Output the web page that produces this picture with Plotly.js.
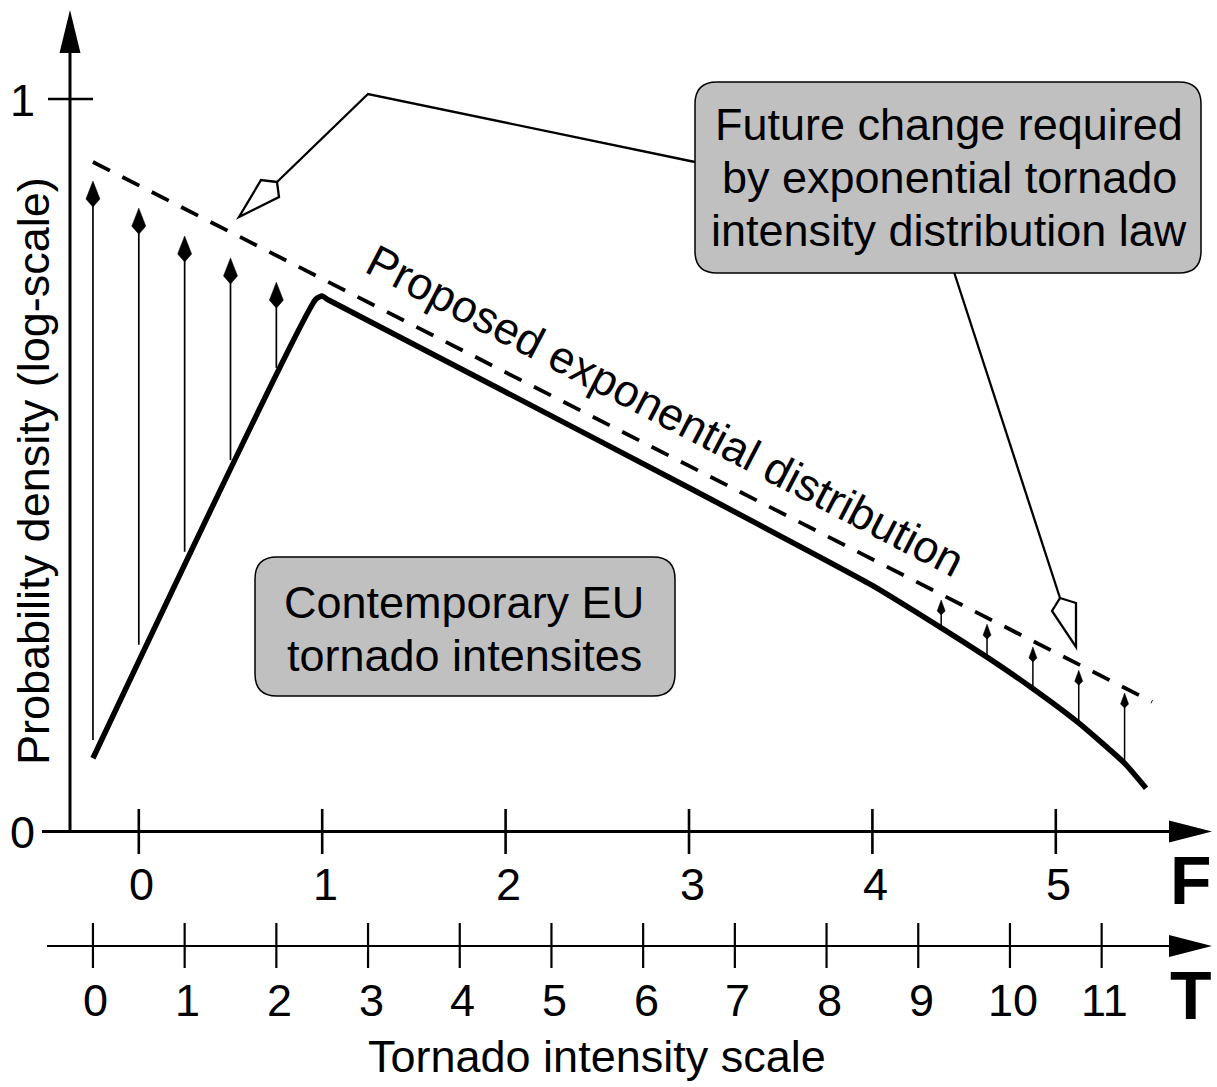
<!DOCTYPE html>
<html><head><meta charset="utf-8">
<script src="https://cdn.plot.ly/plotly-3.0.1.min.js"></script>
<style>html,body{margin:0;padding:0;background:#fff;overflow:hidden}</style>
</head><body>
<div id="chart" style="width:1217px;height:1087px"></div>
<script>
// ---------------- data (F scale units, relative log-density 0..1) ----------------
const contemporaryF = [-0.25, 0.966, 1.0, 1.032, 2.0, 2.995, 3.992, 4.369, 4.625, 4.870, 5.121, 5.372, 5.492];
const contemporaryP = [0.100, 0.727, 0.731, 0.726, 0.600, 0.470, 0.337, 0.279, 0.238, 0.196, 0.149, 0.094, 0.059];
const proposedF = [-0.25, 5.525];
const proposedP = [0.914, 0.177];
const lowArrowF = [-0.25, 0, 0.25, 0.5, 0.75];
const lowArrowFrom = [0.125, 0.255, 0.382, 0.507, 0.633];
const lowArrowTo = [0.888, 0.851, 0.813, 0.783, 0.750];
const highArrowF = [4.375, 4.625, 4.875, 5.125, 5.375];
const highArrowFrom = [0.279, 0.238, 0.196, 0.148, 0.094];
const highArrowTo = [0.316, 0.283, 0.252, 0.220, 0.189];
const fTicks = [0, 1, 2, 3, 4, 5];
const fTickLabels = ['0', '1', '2', '3', '4', '5'];
const tTicks = [0, 1, 2, 3, 4, 5, 6, 7, 8, 9, 10, 11];
const tTickLabels = ['0', '1', '2', '3', '4', '5', '6', '7', '8', '9', '10', '11'];
const yTicks = [0, 1];
const yTickLabels = ['0', '1'];

// ---------------- layout geometry ----------------
const W = 1217, H = 1087;
const PX_X0 = 138.8, PX_PER_F = 183.4, PX_Y0 = 831.5, PX_PER_P = 732.5;
const X = px => (px - PX_X0) / PX_PER_F;
const Y = py => (PX_Y0 - py) / PX_PER_P;
const dX = d => d / PX_PER_F;
const dY = d => d / PX_PER_P;
const FONT = 'Liberation Sans, Arial, Helvetica, sans-serif';

function arrowParts(xs, from, to, L1, L2, w) {
  const sx = [], sy = [], hx = [], hy = [];
  xs.forEach((x, i) => {
    sx.push(x, x, null); sy.push(from[i], to[i] - dY(L1), null);
    hx.push(x, x + dX(w), x, x - dX(w), x, null);
    hy.push(to[i], to[i] - dY(L1), to[i] - dY(L1 + L2), to[i] - dY(L1), to[i], null);
  });
  return {sx, sy, hx, hy};
}
const low = arrowParts(lowArrowF, lowArrowFrom, lowArrowTo, 18, 8, 7);
const high = arrowParts(highArrowF, highArrowFrom, highArrowTo, 11, 4, 4);

const fTickX = [], fTickY = [];
fTicks.forEach(t => { fTickX.push(t, t, null); fTickY.push(Y(809), Y(854), null); });
const tTickX = [], tTickY = [];
tTicks.forEach(t => { tTickX.push(t, t, null); tTickY.push(Y(923), Y(968), null); });
const yTickX = [], yTickY = [];
yTicks.filter(v => v > 0).forEach(v => { yTickX.push(X(48), X(93), null); yTickY.push(v, v, null); });

const traces = [
  {x: contemporaryF, y: contemporaryP, mode: 'lines', line: {color: '#000', width: 5.5, shape: 'spline', smoothing: 0.5}, hoverinfo: 'skip'},
  {x: proposedF, y: proposedP, mode: 'lines', line: {color: '#000', width: 3.8, dash: '19px,14px'}, hoverinfo: 'skip'},
  {x: low.sx, y: low.sy, mode: 'lines', line: {color: '#000', width: 1.7}, hoverinfo: 'skip'},
  {x: low.hx, y: low.hy, mode: 'lines', fill: 'toself', fillcolor: '#000', line: {color: '#000', width: 0.5}, hoverinfo: 'skip'},
  {x: high.sx, y: high.sy, mode: 'lines', line: {color: '#000', width: 1.5}, hoverinfo: 'skip'},
  {x: high.hx, y: high.hy, mode: 'lines', fill: 'toself', fillcolor: '#000', line: {color: '#000', width: 0.5}, hoverinfo: 'skip'},
  {x: fTickX, y: fTickY, mode: 'lines', line: {color: '#000', width: 2.6}, hoverinfo: 'skip'},
  {x: tTickX, y: tTickY, xaxis: 'x2', mode: 'lines', line: {color: '#000', width: 2.2}, hoverinfo: 'skip'},
  {x: yTickX, y: yTickY, mode: 'lines', line: {color: '#000', width: 2.6}, hoverinfo: 'skip'}
];

function P(px, py) { return X(px) + ',' + Y(py); }
function roundRect(x0, y0, x1, y1, r) {
  return 'M ' + P(x0 + r, y0) + ' L ' + P(x1 - r, y0) + ' Q ' + P(x1, y0) + ' ' + P(x1, y0 + r) +
    ' L ' + P(x1, y1 - r) + ' Q ' + P(x1, y1) + ' ' + P(x1 - r, y1) +
    ' L ' + P(x0 + r, y1) + ' Q ' + P(x0, y1) + ' ' + P(x0, y1 - r) +
    ' L ' + P(x0, y0 + r) + ' Q ' + P(x0, y0) + ' ' + P(x0 + r, y0) + ' Z';
}
function poly(pts, close) {
  return pts.map((p, i) => (i ? 'L ' : 'M ') + P(p[0], p[1])).join(' ') + (close ? ' Z' : '');
}
const black = {color: '#000', width: 0};
const shapes = [
  // y axis
  {type: 'path', xref: 'x', yref: 'y', path: poly([[70, 832], [70, 50]]), line: {color: '#000', width: 3}},
  {type: 'path', xref: 'x', yref: 'y', path: poly([[70, 10], [59.5, 53], [80.5, 53]], true), fillcolor: '#000', line: black},
  // F axis
  {type: 'path', xref: 'x', yref: 'y', path: poly([[42, 831.5], [1172, 831.5]]), line: {color: '#000', width: 3}},
  {type: 'path', xref: 'x', yref: 'y', path: poly([[1212, 831.5], [1169, 820.5], [1169, 842.5]], true), fillcolor: '#000', line: black},
  // T axis
  {type: 'path', xref: 'x', yref: 'y', path: poly([[47, 946], [1172, 946]]), line: {color: '#000', width: 2.2}},
  {type: 'path', xref: 'x', yref: 'y', path: poly([[1212, 946], [1169, 935], [1169, 957]], true), fillcolor: '#000', line: black},
  // callout to low-intensity arrows
  {type: 'path', xref: 'x', yref: 'y', path: poly([[695, 162], [368, 94], [277, 182]]), line: {color: '#000', width: 2.3}},
  {type: 'path', xref: 'x', yref: 'y', path: poly([[277, 182], [261, 180], [239, 217], [279, 197]], true), fillcolor: '#fff', line: {color: '#000', width: 2.3}},
  // callout to high-intensity arrows
  {type: 'path', xref: 'x', yref: 'y', path: poly([[954, 272], [1060, 598]]), line: {color: '#000', width: 2.3}},
  {type: 'path', xref: 'x', yref: 'y', path: poly([[1060, 598], [1076, 603], [1076, 647], [1052, 611]], true), fillcolor: '#fff', line: {color: '#000', width: 2.3}},
  // boxes
  {type: 'path', xref: 'x', yref: 'y', path: roundRect(695, 82, 1201, 273, 22), fillcolor: '#c0c0c0', line: {color: '#000', width: 1.5}},
  {type: 'path', xref: 'x', yref: 'y', path: roundRect(255, 557, 675, 696, 22), fillcolor: '#c0c0c0', line: {color: '#000', width: 1.5}}
];

function txt(text, px, py, size, extra) {
  return Object.assign({text: text, x: X(px), y: Y(py), xref: 'x', yref: 'y', showarrow: false,
    xanchor: 'center', yanchor: 'middle', font: {family: FONT, size: size, color: '#000'}}, extra || {});
}
const annotations = [];
fTicks.forEach((t, i) => annotations.push(Object.assign(txt(fTickLabels[i], 0, 884, 45), {x: t + dX(3)})));
tTicks.forEach((t, i) => annotations.push({text: tTickLabels[i], x: t + 2 * dX(3), y: Y(1000), xref: 'x2', yref: 'y',
  showarrow: false, xanchor: 'center', yanchor: 'middle', font: {family: FONT, size: 45, color: '#000'}}));
yTicks.forEach((v, i) => annotations.push({text: yTickLabels[i], x: X(22), y: v + dY(-1), xref: 'x', yref: 'y',
  showarrow: false, xanchor: 'center', yanchor: 'middle', font: {family: FONT, size: 45, color: '#000'}}));
annotations.push(txt('<b>F</b>', 1191, 880, 68));
annotations.push(txt('<b>T</b>', 1191, 995, 68));
annotations.push(txt('Tornado intensity scale', 597, 1056, 45));
annotations.push(txt('Probability density (log-scale)', 33, 471, 45, {textangle: -90}));
annotations.push(txt('Proposed exponential distribution', 665, 410, 45, {textangle: 27.5}));
annotations.push(txt('Future change required', 949, 124, 45));
annotations.push(txt('by exponential tornado', 949, 177, 45));
annotations.push(txt('intensity distribution law', 949, 230, 45));
annotations.push(txt('Contemporary EU', 464, 602, 45));
annotations.push(txt('tornado intensites', 464, 655, 45));

const layout = {
  width: W, height: H, autosize: false,
  margin: {l: 0, r: 0, t: 0, b: 0, pad: 0},
  paper_bgcolor: '#fff', plot_bgcolor: '#fff',
  showlegend: false,
  xaxis: {range: [X(0), X(W)], visible: false, fixedrange: true},
  xaxis2: {range: [2 * X(0) + 0.5, 2 * X(W) + 0.5], overlaying: 'x', visible: false, fixedrange: true},
  yaxis: {range: [Y(H), Y(0)], visible: false, fixedrange: true},
  shapes: shapes,
  annotations: annotations
};
Plotly.newPlot('chart', traces, layout, {staticPlot: true, displayModeBar: false});
</script>
</body></html>
